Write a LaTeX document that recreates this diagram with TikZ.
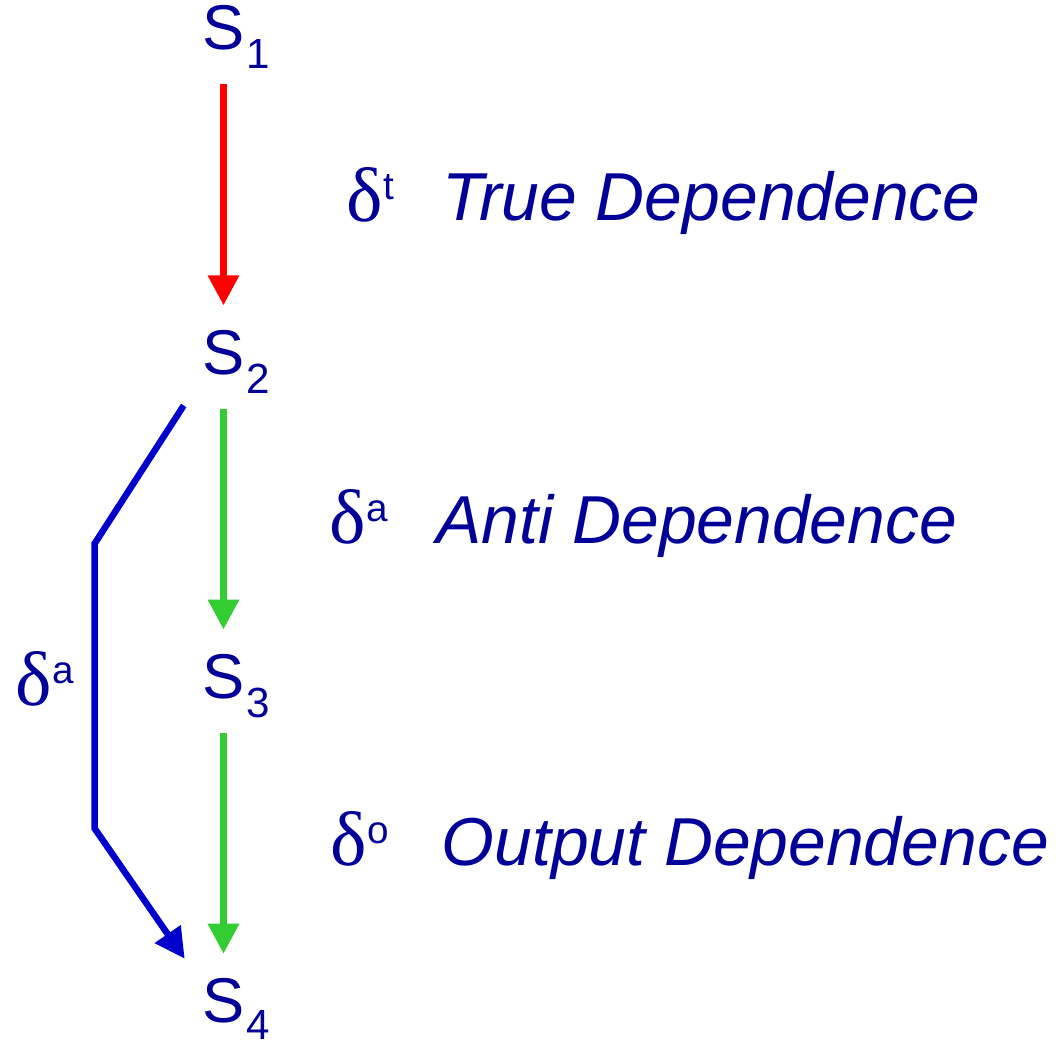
\documentclass[tikz,border=0pt]{standalone}
\usepackage{fontspec}
\setmainfont{Liberation Sans}
\newfontfamily\greekfont{Liberation Serif}
\usetikzlibrary{arrows.meta, positioning, calc}

\definecolor{inkblue}{RGB}{0,0,153}
\definecolor{lineblue}{RGB}{0,0,204}
\definecolor{linegreen}{RGB}{51,204,51}

\newcommand{\deltasup}[1]{{\greekfont\fontsize{22}{22}\selectfont δ}\raisebox{6pt}{\fontsize{11}{11}\selectfont #1}}

\begin{document}
\begin{tikzpicture}[
    >={Triangle[length=0.3cm, width=0.3cm]},
    node distance=2.78cm,
    stmt/.style={
        inner sep=0pt,
        text=inkblue,
        font=\fontsize{18}{18}\selectfont
    },
    stmtsub/.style={
        inner sep=0pt,
        anchor=base west,
        text=inkblue,
        font=\fontsize{12}{12}\selectfont
    },
    deltalbl/.style={
        inner sep=0pt,
        anchor=base west,
        text=inkblue,
        font=\fontsize{19}{19}\selectfont
    },
    deptxt/.style={
        inner sep=0pt,
        anchor=base west,
        text=inkblue,
        font=\fontsize{19.3}{19.3}\selectfont\itshape
    },
    flow/.style={
        ->,
        line width=0.065cm,
        shorten <=0.33cm,
        shorten >=0.24cm
    },
    trueflow/.style={flow, draw=red},
    seqflow/.style={flow, draw=linegreen},
    antiflow/.style={->, line width=0.065cm, draw=lineblue}
]

\useasboundingbox (0,0) rectangle (10.56,-10.45);

% =====================
% Statements
% =====================

\node[stmt, anchor=base] (s1) at (2.235,-0.50) {S};
\node[stmt, below=of s1] (s2) {S};
\node[stmt, below=of s2] (s3) {S};
\node[stmt, below=of s3] (s4) {S};

\node[stmtsub] (s1n) at ([yshift=-0.19cm]s1.base east) {1};
\node[stmtsub] (s2n) at ([yshift=-0.19cm]s2.base east) {2};
\node[stmtsub] (s3n) at ([yshift=-0.19cm]s3.base east) {3};
\node[stmtsub] (s4n) at ([yshift=-0.17cm]s4.base east) {4};

% =====================
% Dependence arrows
% =====================

\draw[trueflow] (s1) -- (s2);
\draw[seqflow] (s2) -- (s3);
\draw[seqflow] (s3) -- (s4);

\draw[antiflow] ($(s2.south west)+(-0.18,-0.30)$) -- ++(-0.89,-1.38)
    -- ++(0,-2.85) -- ($(s4.north west)+(-0.17,0.19)$);

% =====================
% Labels
% =====================

\node[deltalbl] (dtrue) at (3.46,-2.21) {\deltasup{t}};
\node[deptxt] (ttrue) at (4.42,-2.20) {True Dependence};

\node[deltalbl] (danti) at (3.29,-5.43) {\deltasup{a}};
\node[deptxt] (tanti) at (4.36,-5.43) {Anti Dependence};

\node[deltalbl] (dout) at (3.30,-8.65) {\deltasup{o}};
\node[deptxt] (tout) at (4.41,-8.65) {Output Dependence};

\node[deltalbl] (dleft) at (0.15,-7.05) {\deltasup{a}};

\end{tikzpicture}
\end{document}
